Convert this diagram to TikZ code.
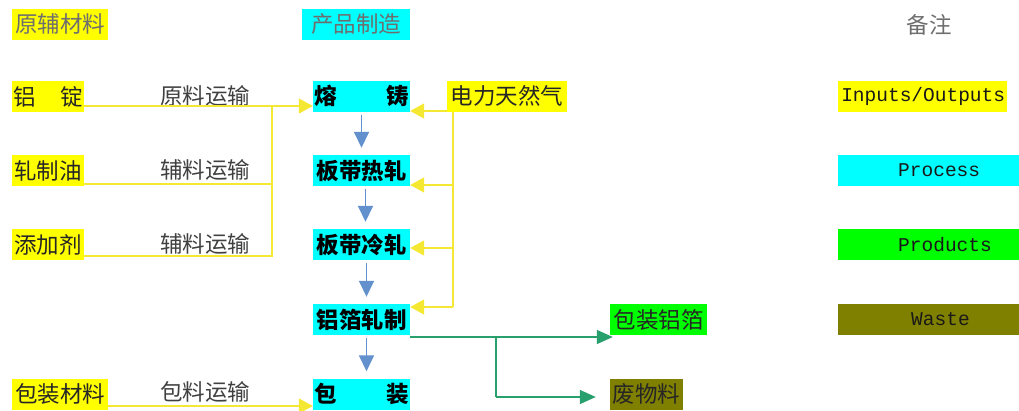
\documentclass[tikz,border=0pt]{standalone}
\usepackage{fontspec}
\newfontfamily\cjk{Noto Sans CJK SC}
\newfontfamily\lmono{Liberation Mono}
\usetikzlibrary{arrows.meta,calc}
\definecolor{yel}{RGB}{255,255,0}
\definecolor{cya}{RGB}{0,255,255}
\definecolor{grn}{RGB}{0,255,0}
\definecolor{oli}{RGB}{128,128,0}
\definecolor{yline}{RGB}{245,232,50}
\definecolor{bline}{RGB}{98,145,205}
\definecolor{gline}{RGB}{40,160,110}
\definecolor{headgray}{RGB}{110,110,110}
\begin{document}
\begin{tikzpicture}[x=1pt,y=-1pt,
  box/.style={inner sep=0pt, minimum height=31pt, font=\cjk\fontsize{22.5}{23}\selectfont, text=black!85},
  inbox/.style={box, fill=yel},
  procbox/.style={box, fill=cya, minimum width=97pt, font=\cjk\bfseries\fontsize{22.5}{23}\selectfont, text=black},
  headbox/.style={box, text=headgray},
  lbl/.style={inner sep=0pt, font=\cjk\fontsize{22.5}{23}\selectfont, text=black!75},
  legbox/.style={inner sep=0pt, minimum height=31pt, anchor=west, font=\lmono\fontsize{19.5}{20}\selectfont, text=black!90},
  yl/.style={draw=yline, line width=1.4pt},
  yarrow/.style={yl, -{Triangle[width=15pt,length=14pt]}},
  barrow/.style={draw=bline, line width=1.6pt, -{Triangle[width=15pt,length=16pt]}, shorten <=3pt, shorten >=7pt},
  garrow/.style={draw=gline, line width=1.4pt, -{Triangle[width=14pt,length=16pt]}},
  gl/.style={draw=gline, line width=1.4pt}
]
\useasboundingbox (0,0) rectangle (1019,410);

% headings
\node[headbox, fill=yel, minimum width=96pt] (h1) at (60,24) {原辅材料};
\node[headbox, fill=cya, minimum width=108pt] (h2) at (356,24) {产品制造};
\node[lbl, text=headgray] (h3) at (929,25) {备注};

% inputs
\node[inbox, minimum width=72pt] (a1) at (48,96.5) {\hbox to 70pt{铝\hfill 锭}};
\node[inbox, minimum width=72pt] (a2) at (48,170.5) {轧制油};
\node[inbox, minimum width=72pt] (a3) at (48,244.5) {添加剂};
\node[inbox, minimum width=96pt] (a4) at (60,394) {包装材料};
\node[inbox, minimum width=120pt] (e) at (507,96) {电力天然气};

% transport labels
\node[lbl] (t1) at (205,96) {原料运输};
\node[lbl] (t2) at (205,170) {辅料运输};
\node[lbl] (t3) at (205,244) {辅料运输};
\node[lbl] (t4) at (205,392) {包料运输};

% processes
\node[procbox] (p1) at (361.5,96) {\hbox to 95pt{熔\hfill 铸}};
\node[procbox] (p2) at (361.5,170.5) {板带热轧};
\node[procbox] (p3) at (361.5,244.5) {板带冷轧};
\node[procbox] (p4) at (361.5,319.5) {铝箔轧制};
\node[procbox] (p5) at (361.5,394) {\hbox to 95pt{包\hfill 装}};

% outputs
\node[box, fill=grn, minimum width=97pt] (g) at (658.5,319.5) {包装铝箔};
\node[box, fill=oli, minimum width=73pt] (w) at (646.5,394) {废物料};

% legend
\node[legbox, fill=yel, minimum width=169pt] (L1) at (838,96) {\hspace{1pt}Inputs/Outputs};
\node[legbox, fill=cya, minimum width=181pt, text width=181pt] (L2) at (838,170.5) {\hspace{60pt}Process};
\node[legbox, fill=grn, minimum width=181pt, text width=181pt] (L3) at (838,244.5) {\hspace{60pt}Products};
\node[legbox, fill=oli, minimum width=181pt, text width=181pt] (L4) at (838,319.5) {\hspace{73pt}Waste};

% input connectors
\coordinate (j1) at (272,106);
\coordinate (j2) at (272,184);
\coordinate (j3) at (272,256);
\draw[yarrow] (a1.east |- j1) -- (p1.west |- j1);
\draw[yl] (a2.east |- j2) -- (j2);
\draw[yl] (a3.east |- j3) -- (j3) -- (j1);
\coordinate (j4) at (0,406);
\draw[yarrow] (a4.east |- j4) -- (p5.west |- j4);

% energy connectors
\coordinate (k1) at (453,111);
\coordinate (k2) at (453,185);
\coordinate (k3) at (453,248);
\coordinate (k4) at (453,307);
\draw[yl] (e.south -| k1) -- (k4);
\draw[yarrow] (e.west |- k1) -- (p1.east |- k1);
\draw[yarrow] (k2) -- (p2.east |- k2);
\draw[yarrow] (k3) -- (p3.east |- k3);
\draw[yarrow] (k4) -- (p4.east |- k4);

% process flow
\draw[barrow] (p1.south) -- (p2.north);
\draw[barrow] ([xshift=4pt]p2.south) -- ([xshift=4pt]p3.north);
\draw[barrow] ([xshift=5pt]p3.south) -- ([xshift=5pt]p4.north);
\draw[barrow] ([xshift=5pt]p4.south) -- ([xshift=5pt]p5.north);

% outputs
\coordinate (m1) at (496,337);
\coordinate (m2) at (496,397);
\draw[garrow] (p4.east |- m1) -- ([xshift=3pt]g.west |- m1);
\draw[gl] (m1) -- (m2);
\draw[garrow] (m2) -- ([xshift=-14pt]w.west |- m2);
\end{tikzpicture}
\end{document}
